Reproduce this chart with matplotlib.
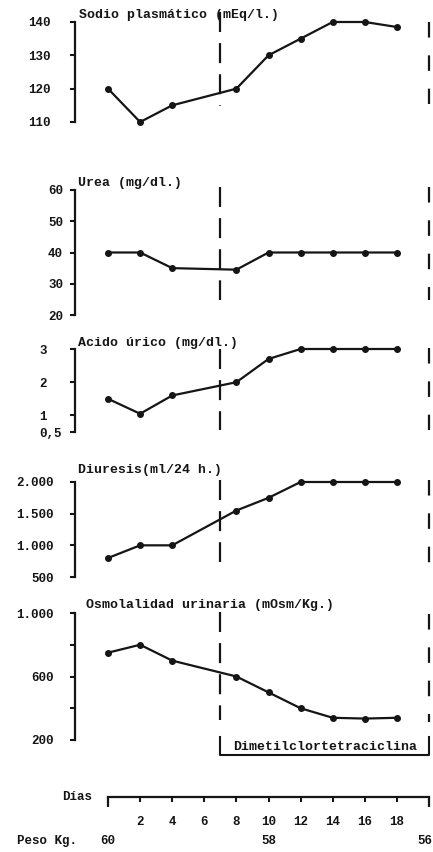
import matplotlib
matplotlib.use("Agg")
import matplotlib.pyplot as plt

# valores
dias = [0, 2, 4, 8, 10, 12, 14, 16, 18]
sodio = [120, 110, 115, 120, 130, 135, 140, 140, 138.5]
urea = [40, 40, 35, 34.5, 40, 40, 40, 40, 40]
acido_urico = [1.5, 1.05, 1.6, 2.0, 2.7, 3.0, 3.0, 3.0, 3.0]
diuresis = [800, 1000, 1000, 1550, 1750, 2000, 2000, 2000, 2000]
osmolalidad = [750, 800, 700, 600, 500, 400, 340, 335, 340]

tratamiento = [7, 20]   # dimetilclortetraciclina, inicio y fin
dias_ticks = [2, 4, 6, 8, 10, 12, 14, 16, 18]
peso_dias = [0, 10, 20]
peso = [60, 58, 56]

# layout en pixeles de la imagen original
W, H = 433, 852
X_AX = 75            # eje vertical
X_DIA0 = 108         # dia 0
PX_DIA = 16.05       # px por dia
XLIM = ((X_AX - X_DIA0) / PX_DIA, (W - X_DIA0) / PX_DIA)
PT = 0.72            # px -> pt a 100 dpi

NEGRO = '#151515'
FONT = dict(family='Liberation Mono', weight='bold')

fig = plt.figure(figsize=(W / 100, H / 100), dpi=100)
fig.patch.set_facecolor('white')


def panel(serie, titulo, ticks, etiquetas, ref_hi, ref_lo, caja, pad,
          tit_dx, tit_dy, tramo_ini, tramo_fin, ha='right'):
    (v_hi, p_hi), (v_lo, p_lo) = ref_hi, ref_lo
    esc = (p_lo - p_hi) / (v_hi - v_lo)
    top, bot = caja
    ax = fig.add_axes([X_AX / W, 1 - bot / H, (W - X_AX) / W, (bot - top) / H])
    ax.patch.set_alpha(0)

    def val(p):
        return v_hi - (p - p_hi) / esc

    ax.set_ylim(val(bot), val(top))
    ax.set_xlim(XLIM)

    ax.plot(dias, serie, color=NEGRO, lw=1.6, marker='o', ms=4,
            clip_on=False, zorder=3)

    # lineas de inicio y fin del tratamiento
    ax.plot([tratamiento[0]] * 2, [val(tramo_ini[0]), val(tramo_ini[1])],
            color=NEGRO, lw=1.6, ls=(0, (9, 5)), clip_on=False)
    ax.plot([tratamiento[1]] * 2, [val(tramo_fin[0]), val(tramo_fin[1])],
            color=NEGRO, lw=1.6, ls=(0, (7, 8)), clip_on=False)

    for s in ['top', 'right', 'bottom']:
        ax.spines[s].set_visible(False)
    ax.spines['left'].set_bounds(v_lo, v_hi)
    ax.spines['left'].set_linewidth(1.6)
    ax.spines['left'].set_color(NEGRO)
    ax.set_xticks([])
    ax.set_yticks(ticks, etiquetas)
    ax.tick_params(axis='y', length=5 * PT, width=1.5, color=NEGRO,
                   pad=pad * PT, labelsize=9, labelcolor=NEGRO)
    for t in ax.get_yticklabels():
        t.set_fontfamily(FONT['family'])
        t.set_fontweight(FONT['weight'])
        t.set_ha(ha)

    ax.annotate(titulo, xy=(0, v_hi), xycoords=('axes fraction', 'data'),
                xytext=(tit_dx * PT, tit_dy * PT), textcoords='offset points',
                ha='left', va='center', fontsize=9.5, color=NEGRO, **FONT)
    return ax, val


panel(sodio, 'Sodio plasmático (mEq/l.)', [110, 120, 130, 140],
      ['110', '120', '130', '140'], (140, 22), (110, 122), (4, 134),
      19, 4, 7, (12, 106), (22, 104))

panel(urea, 'Urea (mg/dl.)', [20, 30, 40, 50, 60],
      ['20', '30', '40', '50', '60'], (60, 190), (20, 315), (172, 325),
      7, 3, 7, (187, 300), (187, 300))

panel(acido_urico, 'Acido úrico (mg/dl.)', [0.5, 1, 2, 3],
      ['0,5', '1', '2', '3'], (3, 349), (0.5, 432), (333, 442),
      31, 3, 6, (349, 430), (348, 430), ha='left')

panel(diuresis, 'Diuresis(ml/24 h.)', [500, 1000, 1500, 2000],
      ['500', '1.000', '1.500', '2.000'], (2000, 482), (500, 577), (462, 587),
      16, 3, 12, (480, 562), (480, 572))

ax_o, val_o = panel(osmolalidad, 'Osmolalidad urinaria (mOsm/Kg.)',
                    [200, 400, 600, 800, 1000],
                    ['200', '', '600', '', '1.000'], (1000, 613), (200, 740),
                    (596, 762), 16, 11, 8, (612, 720), (614, 722))

# corchete del tratamiento
ax_o.plot([tratamiento[0], tratamiento[0], tratamiento[1], tratamiento[1]],
          [val_o(737), val_o(755), val_o(755), val_o(737)],
          color=NEGRO, lw=1.5, clip_on=False)
ax_o.text(sum(tratamiento) / 2, val_o(747), 'Dimetilclortetraciclina',
          ha='center', va='center', fontsize=9.5, color=NEGRO, **FONT)

# eje de dias
Y_DIAS = 797
ax_d = fig.add_axes([X_AX / W, 1 - Y_DIAS / H, (W - X_AX) / W, 10 / H])
ax_d.patch.set_alpha(0)
ax_d.set_xlim(XLIM)
for s in ['top', 'right', 'left']:
    ax_d.spines[s].set_visible(False)
ax_d.spines['bottom'].set_bounds(0, tratamiento[1])
ax_d.spines['bottom'].set_linewidth(1.6)
ax_d.spines['bottom'].set_color(NEGRO)
ax_d.set_yticks([])
ax_d.set_xticks(dias_ticks, [str(d) for d in dias_ticks])
ax_d.set_xticks([0, tratamiento[1]], minor=True)
ax_d.tick_params(axis='x', which='major', length=5 * PT, width=1.5,
                 color=NEGRO, pad=14 * PT, labelsize=9, labelcolor=NEGRO)
ax_d.tick_params(axis='x', which='minor', length=10 * PT, width=1.6,
                 color=NEGRO)
for t in ax_d.get_xticklabels():
    t.set_fontfamily(FONT['family'])
    t.set_fontweight(FONT['weight'])

for i, (d, p) in enumerate(zip(peso_dias, peso)):
    ultimo = i == len(peso) - 1
    ax_d.annotate(str(p), xy=(d, 0), xycoords=('data', 'axes fraction'),
                  xytext=((3 if ultimo else 0) * PT, -44 * PT),
                  textcoords='offset points',
                  ha='right' if ultimo else 'center', va='center',
                  fontsize=9, color=NEGRO, **FONT)

fig.text(92 / W, 1 - 797 / H, 'Días', ha='right', va='center',
         fontsize=9, color=NEGRO, **FONT)
fig.text(17 / W, 1 - 841 / H, 'Peso Kg.', ha='left', va='center',
         fontsize=9, color=NEGRO, **FONT)

fig.savefig('out.png', dpi=100)
